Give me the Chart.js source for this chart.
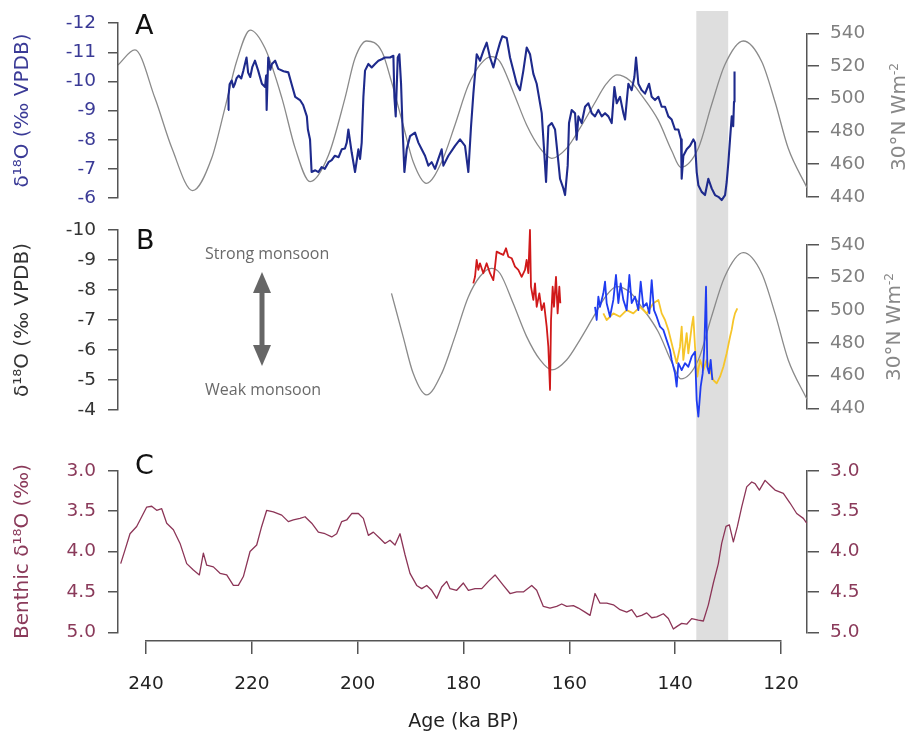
<!DOCTYPE html>
<html><head><meta charset="utf-8">
<script src="https://cdn.jsdelivr.net/npm/chart.js@4.4.1/dist/chart.umd.min.js"></script>
<style>
body{margin:0;background:#fff;}
#wrap{position:relative;width:909px;height:738px;overflow:hidden;font-family:"DejaVu Sans",sans-serif;}
#wrap canvas{position:absolute;left:0;top:0;}
.lbl{position:absolute;white-space:nowrap;line-height:1;}
.rot{transform:translate(-50%,-50%) rotate(-90deg);}
.mon{font-family:"Open Sans",sans-serif;font-size:16px;color:#6a6a6a;}
.pl{font-size:27px;color:#111;}
</style></head><body>
<div id="wrap">
<canvas id="cBand" width="909" height="738"></canvas>
<canvas id="cInsA" width="909" height="738"></canvas>
<canvas id="cA" width="909" height="738"></canvas>
<canvas id="cInsB" width="909" height="738"></canvas>
<canvas id="cB" width="909" height="738"></canvas>
<canvas id="cC" width="909" height="738"></canvas>
<canvas id="cX" width="909" height="738"></canvas>
<div class="lbl pl" style="left:135px;top:11px;">A</div>
<div class="lbl pl" style="left:136px;top:226px;">B</div>
<div class="lbl pl" style="left:135px;top:451px;">C</div>
<div class="lbl mon" style="left:205px;top:244.5px;">Strong monsoon</div>
<div class="lbl mon" style="left:205px;top:380.5px;">Weak monsoon</div>
<svg style="position:absolute;left:250px;top:268px;" width="24" height="102">
 <polygon points="12,4 3,25 21,25" fill="#666"/>
 <rect x="9.5" y="22" width="5" height="58" fill="#666"/>
 <polygon points="12,98 3,77 21,77" fill="#666"/>
</svg>
<div class="lbl rot" style="left:898px;top:117px;font-size:20px;color:#888;">30°N Wm<sup style="font-size:12px;">-2</sup></div>
<div class="lbl rot" style="left:893px;top:327px;font-size:20px;color:#888;">30°N Wm<sup style="font-size:12px;">-2</sup></div>
</div>
<script>
// ---------- data ----------
const ageTicks = [240, 220, 200, 180, 160, 140, 120];
const bandAges = [136.0, 129.9];

// 30°N insolation (W m-2)
const insAge = [245.3,242.1,238.3,235.1,231.2,227.6,225.1,222.9,220.3,217.5,214.3,211.8,209.0,205.5,202.4,200.5,198.3,195.4,193.6,191.4,189.5,187.0,184.1,181.6,179.1,176.8,174.7,173.1,170.6,168.05,165.5,163.3,160.5,158.0,155.4,153.0,151.0,148.5,146.3,143.2,140.6,138.9,135.6,133.1,130.6,127.1,123.6,121.1,118.6,115.05];
const insVal = [520.6,529.8,500.2,469.6,443.7,463.5,494.1,522.6,542.0,530.8,500.2,469.6,449.2,465.5,500.2,524.7,535.3,528.7,510.4,483.9,461.4,448.2,461.4,483.9,508.0,521.0,525.7,522.7,504.3,483.9,469.6,463.5,469.6,481.8,496.1,509.0,514.5,511.0,502.0,487.0,468.0,458.0,469.6,496.1,520.6,535.3,522.6,498.1,469.6,445.5];

// Panel A speleothem d18O
const aAge = [224.5,224.4,224.2,223.8,223.5,223.2,222.9,222.5,222.0,221.6,221.0,220.7,220.3,219.9,219.4,218.8,218.1,217.5,217.3,217.2,216.9,216.5,216.2,215.6,215.0,214.0,213.1,212.5,211.8,210.9,210.3,209.6,209.4,209.0,208.7,208.0,207.4,206.8,206.2,205.5,204.9,204.3,203.6,203.0,202.4,202.06,201.75,201.12,200.49,199.86,199.54,199.23,198.91,198.6,197.97,197.34,196.71,196.08,195.45,194.82,193.87,193.24,193.05,192.8,192.42,192.11,191.79,191.54,191.16,190.72,190.09,189.15,188.52,187.89,187.26,186.63,186.0,185.37,184.74,184.11,183.79,182.85,181.59,180.64,179.7,179.07,178.56,178.12,177.49,176.86,176.23,175.6,174.97,174.34,173.71,173.08,172.64,171.82,171.19,170.56,169.93,169.3,168.67,168.04,167.41,166.78,166.15,165.83,165.2,164.76,164.38,163.94,163.31,162.68,162.05,161.74,161.11,160.79,160.29,160.04,159.53,158.9,158.6,158.27,157.64,157.01,156.38,155.75,155.12,154.49,153.86,153.23,152.6,151.97,151.46,151.02,150.39,149.76,149.45,148.82,148.19,147.68,147.37,146.93,146.3,145.67,144.91,144.41,143.78,143.15,142.52,141.89,141.26,140.63,140.0,139.37,138.86,138.74,138.42,137.79,137.16,136.53,136.22,135.9,135.59,134.96,134.33,133.7,133.07,132.44,131.81,131.18,130.54,130.23,129.91,129.6,129.28,129.0,128.85,128.75];
const aVal = [-9.02,-9.5,-9.9,-10.03,-9.8,-9.92,-10.1,-10.2,-10.1,-10.37,-10.82,-10.3,-10.15,-10.5,-10.71,-10.37,-9.92,-9.81,-10.2,-9.02,-10.82,-10.4,-10.6,-10.71,-10.43,-10.35,-10.31,-9.92,-9.47,-9.36,-9.19,-8.8,-8.35,-8.01,-6.89,-6.95,-6.89,-7.06,-7.0,-7.23,-7.3,-7.45,-7.4,-7.67,-7.7,-7.9,-8.35,-7.56,-6.89,-7.67,-7.34,-7.9,-9.47,-10.37,-10.6,-10.48,-10.6,-10.71,-10.76,-10.82,-10.82,-10.88,-9.47,-8.8,-10.82,-10.93,-9.92,-8.57,-6.89,-7.67,-8.12,-8.24,-7.9,-7.67,-7.45,-7.11,-7.23,-7.0,-7.34,-7.67,-7.11,-7.45,-7.79,-8.01,-7.79,-6.89,-8.46,-9.58,-10.93,-10.71,-11.05,-11.33,-10.82,-10.48,-10.93,-11.33,-11.55,-11.49,-10.82,-10.37,-9.92,-9.7,-10.37,-11.16,-10.93,-10.26,-9.92,-9.58,-8.91,-7.67,-6.55,-8.46,-8.57,-8.35,-7.23,-6.66,-6.33,-6.1,-7.11,-8.57,-9.02,-8.91,-8.0,-8.8,-8.57,-9.13,-9.25,-8.91,-8.8,-9.02,-8.8,-8.91,-8.8,-8.57,-9.81,-9.25,-9.47,-8.91,-8.69,-9.92,-9.7,-10.15,-10.82,-9.92,-9.7,-9.58,-9.92,-9.47,-9.36,-9.47,-9.13,-9.13,-8.8,-8.69,-8.35,-8.35,-8.01,-6.66,-7.45,-7.67,-7.79,-8.01,-7.9,-6.89,-6.44,-6.21,-6.1,-6.66,-6.33,-6.1,-6.04,-5.93,-6.1,-6.55,-7.23,-8.01,-8.8,-8.46,-9.3,-10.34];

// Panel B records
const redAge = [178.13,177.81,177.5,177.18,176.87,176.24,175.61,174.98,174.35,174.03,173.72,173.09,172.46,171.95,171.51,170.88,170.25,169.62,168.99,168.36,168.05,167.73,167.42,167.23,166.78,166.47,166.15,165.65,165.21,164.77,164.26,163.95,163.63,163.44,163.13,162.88,162.5,162.19,161.87,161.68];
const redVal = [-8.22,-8.44,-9.0,-8.67,-8.89,-8.56,-8.89,-8.56,-8.33,-8.78,-9.28,-9.22,-9.17,-9.39,-9.11,-9.06,-8.78,-8.67,-8.44,-8.67,-9.0,-8.56,-10.0,-8.11,-7.67,-8.22,-7.44,-7.89,-7.33,-7.56,-6.78,-6.11,-4.67,-7.0,-8.11,-7.44,-8.44,-7.22,-8.11,-7.56];
const blueAge = [155.12,154.81,154.49,154.18,153.55,153.23,152.92,152.29,151.66,151.16,150.71,150.27,149.77,149.14,148.63,148.19,147.56,146.93,146.49,145.99,145.36,144.85,144.41,143.97,143.47,142.84,142.21,141.58,140.95,140.63,140.0,139.69,139.37,138.74,138.11,137.48,136.85,136.22,135.91,135.59,135.15,134.77,134.46,134.14,133.89,133.57,133.26,132.94];
const blueVal = [-7.44,-7.0,-7.78,-7.44,-7.89,-8.28,-7.56,-7.11,-7.67,-8.5,-7.56,-8.22,-7.67,-7.33,-8.5,-7.56,-7.78,-7.33,-8.28,-7.44,-7.56,-7.22,-8.33,-7.33,-7.11,-6.78,-6.67,-6.33,-6.0,-5.67,-5.22,-4.78,-5.56,-5.33,-5.56,-5.44,-5.78,-5.94,-4.33,-3.78,-4.78,-5.22,-6.11,-8.11,-5.44,-5.22,-5.67,-5.0];
const yellowAge = [153.55,152.92,151.66,150.4,149.14,147.88,146.62,145.36,144.1,143.15,142.52,141.89,141.26,140.32,139.69,139.06,138.74,138.43,137.8,137.48,136.85,136.54,136.22,135.78,135.28,134.65,134.02,133.39,132.76,132.13,131.49,130.86,130.23,129.6,129.29,128.97,128.66,128.22];
const yellowVal = [-7.22,-7.0,-7.22,-7.11,-7.33,-7.22,-7.44,-7.22,-7.56,-7.67,-7.22,-7.0,-6.67,-6.0,-5.56,-6.11,-6.78,-5.67,-6.56,-5.89,-6.78,-7.11,-6.11,-5.11,-5.67,-5.33,-5.67,-5.33,-5.0,-4.89,-5.11,-5.44,-5.89,-6.44,-6.67,-7.0,-7.22,-7.39];

// Panel C benthic d18O
const cAge = [244.79,243.97,243.03,241.77,240.82,239.87,238.93,237.98,237.04,236.09,234.83,233.57,232.31,231.05,229.92,229.16,228.53,227.27,226.01,224.75,223.49,222.55,221.6,220.34,219.08,218.14,217.19,215.93,214.35,213.1,212.15,210.89,209.94,208.68,207.42,206.16,204.9,203.96,203.01,202.07,201.12,199.86,198.92,197.97,197.03,195.77,194.82,193.88,192.93,191.99,191.04,190.1,188.83,187.89,186.94,186.0,185.05,184.11,183.16,182.53,181.27,180.01,179.06,177.8,176.54,175.28,174.02,172.45,171.19,169.93,168.67,167.09,166.15,164.89,163.63,162.37,161.42,160.48,159.21,158.27,157.01,156.06,155.12,154.17,152.91,151.65,150.39,149.13,148.19,147.24,146.3,145.35,144.41,143.46,142.2,141.26,140.31,139.68,138.74,137.79,136.85,135.59,134.64,133.7,132.75,131.81,131.18,130.36,129.73,128.97,128.21,127.4,126.45,125.5,124.87,124.05,122.98,122.04,121.09,119.52,118.26,117.0,115.74,115.11];
const cVal = [4.15,3.98,3.78,3.69,3.57,3.45,3.44,3.49,3.47,3.65,3.73,3.90,4.15,4.23,4.29,4.02,4.17,4.19,4.27,4.29,4.42,4.42,4.31,4.00,3.92,3.69,3.49,3.51,3.55,3.63,3.61,3.59,3.57,3.65,3.76,3.78,3.82,3.78,3.63,3.61,3.53,3.53,3.59,3.80,3.76,3.84,3.90,3.86,3.92,3.78,4.04,4.27,4.42,4.46,4.42,4.48,4.58,4.44,4.37,4.46,4.48,4.39,4.48,4.46,4.46,4.37,4.29,4.42,4.52,4.50,4.50,4.42,4.48,4.68,4.70,4.68,4.65,4.68,4.67,4.70,4.75,4.79,4.52,4.64,4.64,4.66,4.72,4.75,4.72,4.81,4.79,4.76,4.82,4.81,4.77,4.83,4.96,4.93,4.89,4.90,4.83,4.85,4.86,4.66,4.39,4.15,3.90,3.69,3.67,3.88,3.69,3.45,3.20,3.14,3.16,3.24,3.12,3.18,3.24,3.28,3.40,3.53,3.59,3.65];

// ---------- helpers ----------
const FONT = 'DejaVu Sans';
Chart.defaults.font.family = FONT;
const pts = (xs, ys) => xs.map((x, i) => ({x: x, y: ys[i]}));
const insFrom = a => pts(insAge.filter(x => x <= a), insVal.filter((v, i) => insAge[i] <= a));
const X_MIN = 115.05, X_MAX = 245.3;
const hiddenX = () => ({type: 'linear', min: X_MIN, max: X_MAX, reverse: true, display: false});
const AX = '#555';
const TICK_SIZE = 18.5;

function leftY(min, max, step, color, title, tcolor, fmt) {
  return {type: 'linear', position: 'left', min: min, max: max, reverse: true,
    afterFit: s => { s.width = 118; },
    ticks: {stepSize: step, autoSkip: false, color: color, font: {size: TICK_SIZE}, padding: 12, callback: fmt},
    grid: {drawOnChartArea: false, drawTicks: true, tickLength: 10, color: AX, lineWidth: 1.5},
    border: {display: true, color: AX, width: 1.5},
    title: {display: true, text: title, color: tcolor, font: {size: 20}, padding: {top: 11, bottom: 0}}};
}
function rightY(min, max, step, color, rev, fmt) {
  return {type: 'linear', position: 'right', min: min, max: max, reverse: rev,
    afterFit: s => { s.width = 102; },
    ticks: {stepSize: step, autoSkip: false, color: color, font: {size: TICK_SIZE}, padding: 11, callback: fmt},
    grid: {drawOnChartArea: false, drawTicks: true, tickLength: 12, color: AX, lineWidth: 1.5},
    border: {display: true, color: AX, width: 1.5}};
}
function line(data, color, w, extra) {
  return Object.assign({data: data, borderColor: color, borderWidth: w, pointRadius: 0, fill: false, tension: 0, clip: false, borderJoinStyle: 'round'}, extra || {});
}
function mk(id, datasets, scales, padding) {
  return new Chart(document.getElementById(id), {
    type: 'line', data: {datasets: datasets},
    options: {responsive: false, animation: false, devicePixelRatio: 1, events: [],
      layout: {padding: padding},
      plugins: {legend: {display: false}, tooltip: {enabled: false}, title: {display: false}},
      scales: scales}
  });
}
const intFmt = v => String(v);
const oneFmt = v => Number(v).toFixed(1);

// shaded interval
mk('cBand', [{data: [{x: bandAges[0], y: 1}, {x: bandAges[1], y: 1}], borderWidth: 0, pointRadius: 0,
  fill: 'origin', backgroundColor: '#dedede', borderColor: 'rgba(0,0,0,0)'}],
  {x: hiddenX(), y: {min: 0, max: 1, display: false}}, {left: 118, right: 102, top: 11, bottom: 97});

// Panel A insolation + right axis
mk('cInsA', [line(pts(insAge, insVal), '#8a8a8a', 1.3, {cubicInterpolationMode: 'monotone'})],
  {x: hiddenX(), y: rightY(440, 540, 20, '#808080', false, intFmt)}, {left: 118, right: 0, top: 33.3, bottom: 541.3});

// Panel A speleothem
mk('cA', [line(pts(aAge, aVal), '#1e2a8c', 2.1)],
  {x: hiddenX(), y: leftY(-12, -6, 1, '#3a3a96', 'δ¹⁸O (‰ VPDB)', '#3a3a96', intFmt)},
  {left: 0, right: 102, top: 20, bottom: 540});

// Panel B insolation + right axis
mk('cInsB', [line(insFrom(195), '#8a8a8a', 1.3, {cubicInterpolationMode: 'monotone'})],
  {x: hiddenX(), y: rightY(440, 540, 20, '#808080', false, intFmt)}, {left: 118, right: 0, top: 245, bottom: 329.7});

// Panel B records
mk('cB', [
  line(pts(blueAge, blueVal), '#1f3cf0', 1.8, {order: 0}),
  line(pts(redAge, redVal), '#d0191a', 1.8, {order: 1}),
  line(pts(yellowAge, yellowVal), '#f6c52a', 1.8, {order: 2})],
  {x: hiddenX(), y: leftY(-10, -4, 1, '#333', 'δ¹⁸O (‰ VPDB)', '#333', intFmt)},
  {left: 0, right: 102, top: 230, bottom: 328});

// Panel C benthic
const cScales = {x: hiddenX(),
  y: leftY(3.0, 5.0, 0.5, '#8a3a5a', 'Benthic δ¹⁸O (‰)', '#8a3a5a', oneFmt),
  y2: rightY(3.0, 5.0, 0.5, '#8a3a5a', true, oneFmt)};
mk('cC', [line(pts(cAge, cVal), '#8c3557', 1.3, {yAxisID: 'y'})], cScales,
  {left: 0, right: 0, top: 470.7, bottom: 105.7});

// shared age axis
mk('cX', [], {
  x: {type: 'linear', position: 'bottom', min: ageTicks[ageTicks.length - 1], max: ageTicks[0], reverse: true,
    afterFit: s => { s.height = 97; },
    afterBuildTicks: s => { s.ticks = ageTicks.map(v => ({value: v})); },
    ticks: {autoSkip: false, maxRotation: 0, color: '#222', font: {size: TICK_SIZE}, padding: 19},
    grid: {drawOnChartArea: false, drawTicks: true, tickLength: 13, color: AX, lineWidth: 1.5},
    border: {display: true, color: AX, width: 1.5},
    title: {display: true, text: 'Age (ka BP)', color: '#222', font: {size: 19}, padding: {top: 4, bottom: 5}}},
  y: {display: false, min: 0, max: 1}}, {left: 146, right: 128, top: 600, bottom: 0});
</script>
</body></html>
